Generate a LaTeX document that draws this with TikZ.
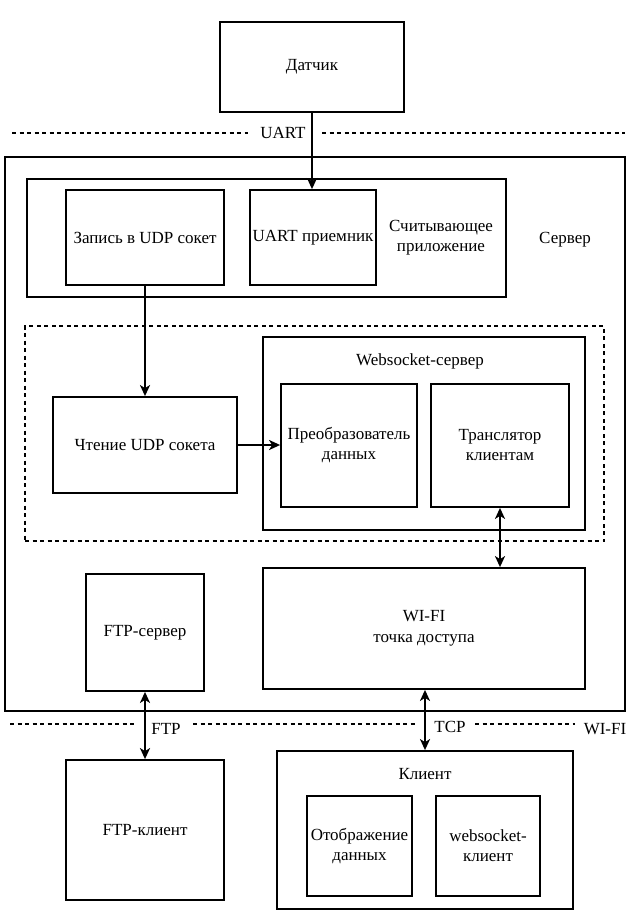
\documentclass[tikz,border=0pt]{standalone}
\usepackage{fontspec}
\setmainfont{Liberation Serif}
\newfontfamily\tnr{Liberation Serif}
\usetikzlibrary{arrows.meta,calc}
\begin{document}
\begin{tikzpicture}[x=1pt,y=-1pt,
  txt/.style={font=\tnr\fontsize{17}{20}\selectfont, align=center},
  box/.style={draw, line width=1.8pt, rectangle, inner sep=0pt, txt},
  lbl/.style={inner sep=0pt, txt},
  dline/.style={line width=1.5pt, dash pattern=on 4pt off 3.5pt},
  conn/.style={draw, line width=1.9pt, -{Stealth[length=11pt,width=10pt,inset=3pt]}},
  dconn/.style={draw, line width=1.9pt, {Stealth[length=11pt,width=10pt,inset=3pt]}-{Stealth[length=11pt,width=10pt,inset=3pt]}}]
\useasboundingbox (0,0) rectangle (631,921);

% sensor
\node[box, minimum width=184pt, minimum height=90pt] (dat) at (312,67) {Датчик};

% UART separator
\node[lbl] (uartlbl) at (283,133) {UART};
\coordinate (u1) at (12,133);
\coordinate (u2) at (248,133);
\coordinate (u3) at (322,133);
\coordinate (u4) at (625,133);
\draw[dline] (u1) -- (u2);
\draw[dline] (u3) -- (u4);

% server
\node[box, minimum width=620pt, minimum height=554pt] (server) at (315,434) {};
\node[lbl] (serverlbl) at (565,240) {Сервер};

% reading application
\node[box, minimum width=479pt, minimum height=118pt] (app) at (266.5,238) {};
\node[lbl] (applbl) at (441,238) {Считывающее\\приложение};
\node[box, minimum width=158pt, minimum height=95pt] (udpw) at (145,237.5) {Запись в UDP сокет};
\node[box, minimum width=126pt, minimum height=95pt] (uart) at (313,237.5) {UART приемник};

% dashed group
\node[draw, dline, rectangle, minimum width=579pt, minimum height=215pt] (grp) at (314.5,433.5) {};
\node[box, minimum width=184pt, minimum height=96pt] (udpr) at (145,445) {Чтение UDP сокета};
\node[box, minimum width=322pt, minimum height=193pt] (ws) at (424,433.5) {};
\node[lbl] (wslbl) at (420,361) {Websocket-сервер};
\node[box, minimum width=136pt, minimum height=123pt] (conv) at (349,445.5) {Преобразователь\\данных};
\node[box, minimum width=138pt, minimum height=123pt] (trans) at (500,445.5) {Транслятор\\клиентам};

% bottom of server
\node[box, minimum width=322pt, minimum height=121pt] (wifi) at (424,628.5) {WI-FI\\[1pt]точка доступа};
\node[box, minimum width=118pt, minimum height=117pt] (ftps) at (145,632.5) {FTP-сервер};

% WI-FI separator
\coordinate (w1) at (10,724);
\coordinate (w2) at (135,724);
\coordinate (w3) at (193,724);
\coordinate (w4) at (415,724);
\coordinate (w5) at (475,724);
\coordinate (w6) at (575,724);
\draw[dline] (w1) -- (w2);
\draw[dline] (w3) -- (w4);
\draw[dline] (w5) -- (w6);
\node[lbl] (ftplbl) at (166,729) {FTP};
\node[lbl] (tcplbl) at (450,727) {TCP};
\node[lbl] (wifilbl) at (605,729) {WI-FI};

% clients
\node[box, minimum width=158pt, minimum height=140pt] (ftpc) at (145,830) {FTP-клиент};
\node[box, minimum width=296pt, minimum height=158pt] (client) at (425,830) {};
\node[lbl] (clientlbl) at (425,774) {Клиент};
\node[box, minimum width=105pt, minimum height=100pt] (disp) at (359.5,846) {Отображение\\данных};
\node[box, minimum width=104pt, minimum height=100pt] (wsc) at (488,846) {websocket-\\клиент};

% connectors
\path[conn] (dat.south) -- (dat.south |- uart.north);
\path[conn] (udpw.south) -- (udpw.south |- udpr.north);
\path[conn] (udpr.east) -- (udpr.east -| conv.west);
\path[dconn] (trans.south) -- (trans.south |- wifi.north);
\path[dconn] (ftps.south) -- (ftps.south |- ftpc.north);
\path[dconn] (wifi.south -| client.north) -- (client.north);
\end{tikzpicture}
\end{document}
